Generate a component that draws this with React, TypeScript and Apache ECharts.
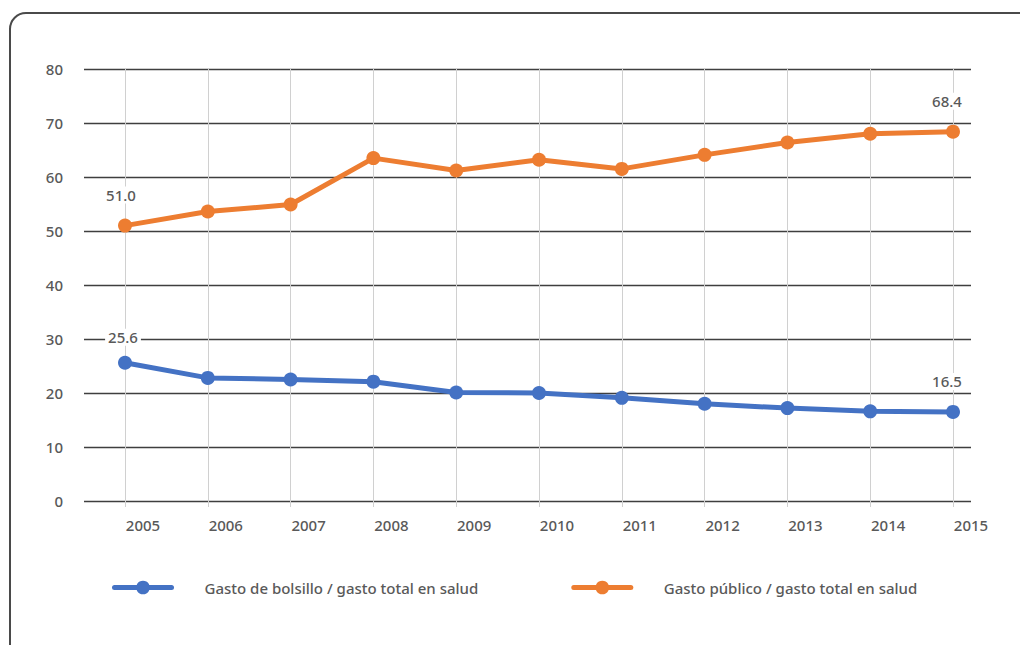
import React, { useEffect, useRef } from "react";
import * as echarts from "echarts";

const years = ["2005", "2006", "2007", "2008", "2009", "2010", "2011", "2012", "2013", "2014", "2015"];
const bolsillo = [25.6, 22.8, 22.5, 22.1, 20.1, 20.0, 19.1, 18.0, 17.2, 16.6, 16.5];
const publico = [51.0, 53.6, 54.9, 63.5, 61.2, 63.2, 61.5, 64.1, 66.4, 68.0, 68.4];
const yTicks = [0, 10, 20, 30, 40, 50, 60, 70, 80];
const seriesNames = ["Gasto de bolsillo / gasto total en salud", "Gasto público / gasto total en salud"];

const FONT = "Noto Sans";
const WEIGHT = 500;
const TEXT = "#595959";
const BLUE = "#4472C4";
const ORANGE = "#ED7D31";

function buildData(values: number[], dists: [number, number], offs: [number, number]) {
  const last = values.length - 1;
  return values.map((v, i) => {
    if (i === 0 || i === last) {
      return {
        value: v,
        label: {
          show: true,
          position: "top",
          distance: i === 0 ? dists[0] : dists[1],
          offset: [i === 0 ? offs[0] : offs[1], 0],
          formatter: (p: any) => Number(p.value).toFixed(1),
          fontFamily: FONT,
          fontWeight: WEIGHT,
          fontSize: 15,
          color: TEXT,
          backgroundColor: "#ffffff",
          padding: [1, 3],
        },
      };
    }
    return { value: v };
  });
}

export default function App() {
  const ref = useRef<HTMLDivElement>(null);
  useEffect(() => {
    if (!ref.current) return;
    const chart = echarts.init(ref.current, null, { renderer: "svg" });
    const top = 69;
    const h = 432;
    chart.setOption({
      animation: false,
      backgroundColor: "#ffffff",
      textStyle: { fontFamily: FONT },
      graphic: [
        {
          type: "rect",
          shape: { x: 10, y: 13, width: 1040, height: 680, r: 16 },
          style: { fill: "none", stroke: "#4a4a4a", lineWidth: 2 },
          z: -10,
        },
      ],
      legend: {
        left: 112,
        top: 580,
        padding: 0,
        itemWidth: 57,
        itemHeight: 17,
        itemGap: 93,
        lineStyle: { width: 5, cap: "round" },
        textStyle: {
          fontFamily: FONT,
          fontWeight: WEIGHT,
          fontSize: 15,
          color: TEXT,
          padding: [0, 0, 0, 28],
        },
        data: seriesNames,
      },
      grid: [
        { left: 84, right: 49, top, height: h },
        { left: 125, right: 67, top, height: h },
      ],
      xAxis: [
        { gridIndex: 0, type: "value", min: 0, max: 1, show: false },
        {
          gridIndex: 1,
          type: "category",
          boundaryGap: false,
          data: years,
          axisLine: { show: false },
          axisTick: { show: true, length: 6, lineStyle: { color: "#d0d0d0" } },
          splitLine: { show: true, lineStyle: { color: "#d0d0d0", width: 1 } },
          axisLabel: {
            fontFamily: FONT,
            fontWeight: WEIGHT,
            fontSize: 15,
            color: TEXT,
            margin: 16,
            padding: [0, 0, 0, 36],
          },
        },
      ],
      yAxis: [
        {
          gridIndex: 0,
          type: "value",
          min: yTicks[0],
          max: yTicks[yTicks.length - 1],
          interval: 10,
          axisLine: { show: false },
          axisTick: { show: false },
          splitLine: { lineStyle: { color: "#3f3f3f", width: 1.3 } },
          axisLabel: { fontFamily: FONT, fontWeight: WEIGHT, fontSize: 15, color: TEXT, margin: 21 },
        },
        {
          gridIndex: 1,
          type: "value",
          min: yTicks[0],
          max: yTicks[yTicks.length - 1],
          interval: 10,
          show: false,
          splitLine: { show: false },
        },
      ],
      series: [
        {
          name: seriesNames[0],
          type: "line",
          xAxisIndex: 1,
          yAxisIndex: 1,
          data: buildData(bolsillo, [10, 15], [-2, -6]),
          symbol: "circle",
          symbolSize: 14,
          lineStyle: { color: BLUE, width: 5 },
          itemStyle: { color: BLUE },
          z: 3,
        },
        {
          name: seriesNames[1],
          type: "line",
          xAxisIndex: 1,
          yAxisIndex: 1,
          data: buildData(publico, [15, 15], [-4, -6]),
          symbol: "circle",
          symbolSize: 14,
          lineStyle: { color: ORANGE, width: 5 },
          itemStyle: { color: ORANGE },
          z: 3,
        },
      ],
    });
    return () => chart.dispose();
  }, []);
  return (
    <div
      ref={ref}
      style={{ position: "fixed", left: 0, top: 0, width: 1020, height: 645 }}
    />
  );
}
